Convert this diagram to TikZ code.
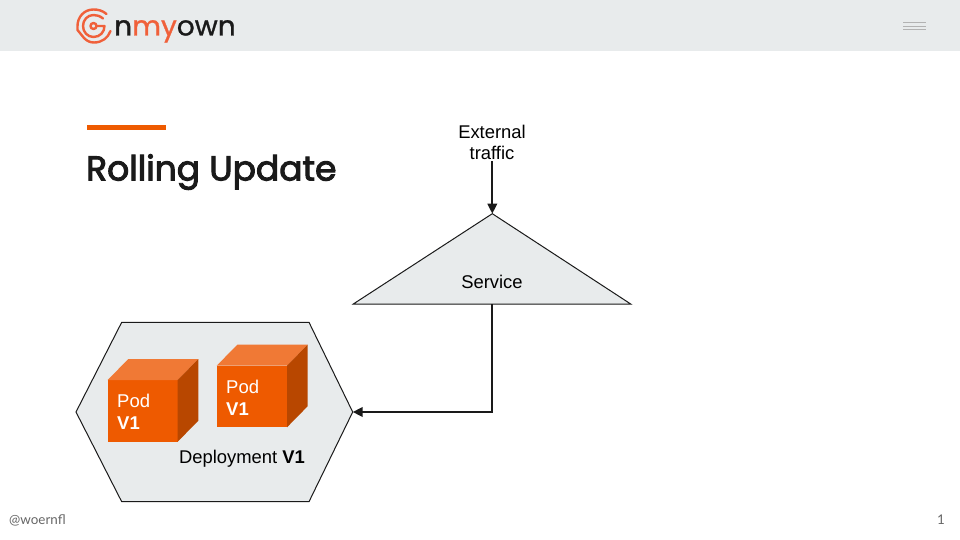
\documentclass[tikz,border=0pt]{standalone}
\usepackage{fontspec}
\usepackage{graphicx}
\setmainfont{Liberation Sans}
\newfontfamily\latofont{Lato}
\newfontfamily\titlefont[FakeBold=2.8]{Poppins}
\newfontfamily\logofont[FakeBold=1]{Poppins}
\usetikzlibrary{arrows.meta}
\definecolor{bandgrey}{HTML}{E8EBEC}
\definecolor{accent}{HTML}{EE5A00}
\definecolor{podtop}{HTML}{F07935}
\definecolor{podside}{HTML}{B84700}
\definecolor{logoorange}{HTML}{F0603A}
\definecolor{inkdark}{HTML}{1A1A1A}
\tikzset{
  x=1pt,y=-1pt,
  shapeline/.style={draw=inkdark,line width=1pt,fill=bandgrey},
  conn/.style={draw=inkdark,line width=2pt,-{Triangle[length=10pt,width=9.5pt]}},
  label/.style={font=\fontsize{18.4}{20.6}\selectfont,text=black,inner sep=0pt,align=center},
  podlabel/.style={font=\fontsize{18.5}{22.3}\selectfont,text=white,inner sep=0pt,align=left,anchor=north west},
  logoarc/.style={draw=logoorange,line width=2.4pt,line cap=round,line join=round},
}
\newcommand{\podcube}[4]{%
  \fill[accent] (#1,#2) rectangle (#3,#4);
  \fill[podtop] (#1,#2) -- ({#1+20.6},{#2-21}) -- ({#3+20.6},{#2-21}) -- (#3,#2) -- cycle;
  \fill[podside] (#3,#2) -- ({#3+20.6},{#2-21}) -- ({#3+20.6},{#4-21}) -- (#3,#4) -- cycle;
}
\begin{document}
\begin{tikzpicture}
\useasboundingbox (0,0) rectangle (960,540);
\fill[white] (0,0) rectangle (960,540);
\fill[bandgrey] (0,0) rectangle (960,51);
% logo
\draw[logoarc] (106.5,14) .. controls (102.5,10.5) and (98,9.5) .. (93.5,9.5)
  .. controls (84,9.5) and (77.5,17) .. (77.5,26) -- (77.5,30) -- (84,38)
  .. controls (87,41) and (90,42.5) .. (94,42.5)
  .. controls (102,42.5) and (108,38) .. (110.5,31);
\draw[logoarc] (103,18.5) .. controls (100,16) and (97,15) .. (93.5,15)
  .. controls (87.5,15) and (83,20) .. (83,26)
  .. controls (83,32) and (87.5,37) .. (93.5,37)
  .. controls (100,37) and (104.5,32) .. (104.5,26) -- (96.5,26);
\draw[logoarc] (93.5,26) circle[radius=3];
\node[inner sep=0pt,anchor=base west,font=\logofont\fontsize{27.5}{29}\selectfont] (logotext) at (114,35.5)
  {\scalebox{1.02}[1]{\textcolor{inkdark}{n}\textcolor{logoorange}{my}\textcolor{inkdark}{own}}};
% menu
\foreach \yy in {22.5,26,29.5} \draw[draw=black!30,line width=0.9pt] (903,\yy) -- (925.5,\yy);
% title
\fill[accent] (87,125) rectangle (165.5,130);
\node[inner sep=0pt,anchor=base west,text=inkdark,font=\titlefont\fontsize{34.5}{34.5}\selectfont] (title) at (86,180.5) {Rolling Update};
% shapes
\node[label] (ext) at (492,142.5) {External\\traffic};
\draw[shapeline] (492.3,213.7) coordinate (st) -- (630.7,304) -- (353.3,304) -- cycle;
\coordinate (sb) at (492.3,304);
\node[label] (service) at (492,282) {Service};
\draw[shapeline] (121.7,322.3) -- (309,322.3) -- (352.7,412) coordinate (hr) -- (309,501.7) -- (121.7,501.7) -- (76,412) -- cycle;
\podcube{107.7}{380}{177.7}{441.7}
\podcube{216.7}{365.7}{287}{427.3}
\node[podlabel] (pod1) at (117,393.5) {Pod\\\textbf{V1}};
\node[podlabel] (pod2) at (226,379.5) {Pod\\\textbf{V1}};
\node[label] (depl) at (242,459) {Deployment \textbf{V1}};
% connectors
\draw[conn] (ext.south -| st) ++(0,1.5) -- (st);
\draw[conn] (sb) |- (hr);
% footer
\node[inner sep=0pt,anchor=base west,text=black!60,font=\latofont\fontsize{13.4}{13.4}\selectfont] (handle) at (9,524) {@woernfl};
\node[inner sep=0pt,anchor=base east,text=black!60,font=\latofont\fontsize{13.4}{13.4}\selectfont] (page) at (945,524) {1};
\end{tikzpicture}
\end{document}
